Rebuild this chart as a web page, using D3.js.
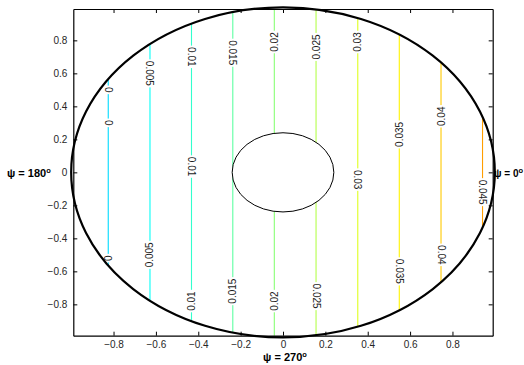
<!DOCTYPE html>
<html>
<head>
<meta charset="utf-8">
<title>Contour</title>
<style>
  body { margin: 0; background: #fff; }
  svg { display: block; }
  text { font-family: "Liberation Sans", Arial, Helvetica, sans-serif; }
  .tick text { font-size: 10px; fill: #262626; font-family: "Liberation Sans", Arial, sans-serif; }
  .clabel { font-size: 10px; fill: #1a1a1a; }
  .psi { font-size: 11px; font-weight: bold; fill: #000; }
</style>
</head>
<body>
<script src="https://cdn.jsdelivr.net/npm/d3@7"></script>
<script>
const width = 524;
const height = 365;

// contour levels and where each vertical level line sits (x)
const levels = [0, 0.005, 0.01, 0.015, 0.02, 0.025, 0.03, 0.035, 0.04, 0.045];
const levelX = [-0.825, -0.628, -0.432, -0.237, -0.041, 0.156, 0.353, 0.549, 0.746, 0.942];

// inline labels: level, y along the line, reading direction (1 = down, -1 = up)
const labelLevel = [0, 0, 0, 0.005, 0.005, 0.01, 0.01, 0.01, 0.015, 0.015, 0.02, 0.02,
  0.025, 0.025, 0.03, 0.03, 0.035, 0.035, 0.04, 0.04, 0.045];
const labelY = [0.50, 0.30, -0.52, 0.60, -0.50, 0.70, 0.035, -0.78, 0.725, -0.72, 0.79, -0.78,
  0.76, -0.75, 0.79, -0.044, 0.23, -0.60, 0.34, -0.50, -0.12];
const labelDir = [1, 1, -1, 1, -1, 1, 1, -1, 1, -1, -1, -1,
  -1, 1, -1, 1, -1, 1, -1, 1, 1];

const xTicks = [-0.8, -0.6, -0.4, -0.2, 0, 0.2, 0.4, 0.6, 0.8];
const yTicks = [-0.8, -0.6, -0.4, -0.2, 0, 0.2, 0.4, 0.6, 0.8];
const outerR = 1;
const innerR = 0.24;

const x = d3.scaleLinear().domain([-0.99, 0.99]).range([73.3, 492.7]);
const y = d3.scaleLinear().domain([-0.99, 0.99]).range([335.7, 9]);

// jet colormap, levels mapped onto part of it
function jet(t) {
  const c = v => Math.round(255 * Math.max(0, Math.min(1, v)));
  return d3.rgb(c(1.5 - Math.abs(4 * t - 3)), c(1.5 - Math.abs(4 * t - 2)), c(1.5 - Math.abs(4 * t - 1)));
}
const tScale = d3.scaleLinear().domain([0, 0.045]).range([0.34, 0.72]);
const color = v => jet(tScale(v)).toString();

const svg = d3.select('body').append('svg')
  .attr('width', width)
  .attr('height', height);

const defs = svg.append('defs');
const mask = defs.append('mask').attr('id', 'lineMask')
  .attr('maskUnits', 'userSpaceOnUse')
  .attr('x', 0).attr('y', 0).attr('width', width).attr('height', height);

mask.append('ellipse')
  .attr('cx', x(0)).attr('cy', y(0))
  .attr('rx', x(outerR) - x(0)).attr('ry', y(0) - y(outerR))
  .attr('fill', '#fff');
mask.append('ellipse')
  .attr('cx', x(0)).attr('cy', y(0))
  .attr('rx', x(innerR) - x(0)).attr('ry', y(0) - y(innerR))
  .attr('fill', '#000');

const labels = labelLevel.map((lv, i) => ({ level: lv, y: labelY[i], dir: labelDir[i] }));

// contour lines
svg.append('g')
  .attr('mask', 'url(#lineMask)')
  .selectAll('line')
  .data(levels)
  .join('line')
    .attr('x1', (d, i) => x(levelX[i]))
    .attr('x2', (d, i) => x(levelX[i]))
    .attr('y1', y(0.99))
    .attr('y2', y(-0.99))
    .attr('stroke', d => color(d))
    .attr('stroke-width', 1.1);

// inline labels
const lab = svg.append('g')
  .selectAll('text')
  .data(labels)
  .join('text')
    .attr('class', 'clabel')
    .attr('text-anchor', 'middle')
    .attr('dy', '0.35em')
    .attr('transform', d => {
      const px = x(levelX[levels.indexOf(d.level)]);
      return `translate(${px},${y(d.y)}) rotate(${d.dir * 90})`;
    })
    .text(d => String(d.level));

// cut the lines behind the labels
lab.each(function (d) {
  const len = this.getComputedTextLength();
  const px = x(levelX[levels.indexOf(d.level)]);
  mask.append('rect')
    .attr('x', px - 4)
    .attr('y', y(d.y) - len / 2 - 1.5)
    .attr('width', 8)
    .attr('height', len + 3)
    .attr('fill', '#000');
});

// circles
svg.append('ellipse')
  .attr('cx', x(0)).attr('cy', y(0))
  .attr('rx', x(innerR) - x(0)).attr('ry', y(0) - y(innerR))
  .attr('fill', 'none').attr('stroke', '#000').attr('stroke-width', 1);

svg.append('ellipse')
  .attr('cx', x(0)).attr('cy', y(0))
  .attr('rx', x(outerR) - x(0)).attr('ry', y(0) - y(outerR))
  .attr('fill', 'none').attr('stroke', '#000').attr('stroke-width', 2.2);

// axes, box style
const fmt = d => d === 0 ? '0' : d3.format('.1f')(d);
const tickLen = 4;

svg.append('g')
  .attr('transform', `translate(0,${y(-0.99)})`)
  .call(d3.axisBottom(x).tickValues(xTicks).tickFormat(fmt).tickSizeInner(-tickLen).tickSizeOuter(0).tickPadding(5));
svg.append('g')
  .attr('transform', `translate(0,${y(0.99)})`)
  .call(d3.axisTop(x).tickValues(xTicks).tickFormat('').tickSizeInner(-tickLen).tickSizeOuter(0));
svg.append('g')
  .attr('transform', `translate(${x(-0.99)},0)`)
  .call(d3.axisLeft(y).tickValues(yTicks).tickFormat(fmt).tickSizeInner(-tickLen).tickSizeOuter(0).tickPadding(6));
svg.append('g')
  .attr('transform', `translate(${x(0.99)},0)`)
  .call(d3.axisRight(y).tickValues(yTicks).tickFormat('').tickSizeInner(-tickLen).tickSizeOuter(0));

svg.selectAll('.domain').attr('stroke', '#000').attr('stroke-width', 1.2);
svg.selectAll('.tick line').attr('stroke', '#000');

// angle labels
function psi(px, py, anchor, deg, size) {
  const t = svg.append('text')
    .attr('class', 'psi')
    .attr('x', px).attr('y', py)
    .attr('text-anchor', anchor);
  if (size) t.style('font-size', size + 'px');
  t.append('tspan').text('\u03c8 = ' + deg);
  t.append('tspan').attr('dy', -4).attr('font-size', '7.5px').text('o');
}
psi(7, 177, 'start', '180');
psi(494, 177, 'start', '0', 10);
psi(x(0) + 2, 361, 'middle', '270');
</script>
</body>
</html>
